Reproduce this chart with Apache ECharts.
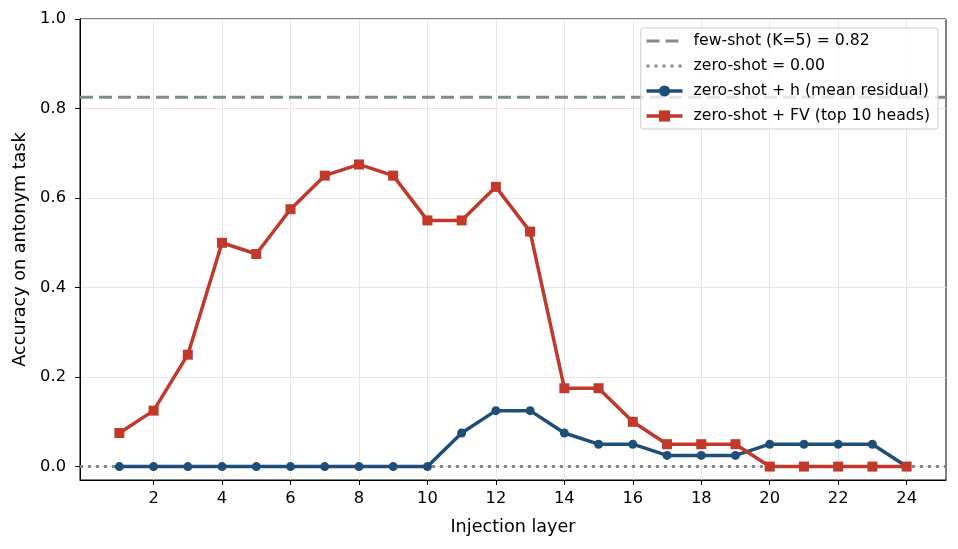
<!DOCTYPE html>
<html>
<head>
<meta charset="utf-8">
<script src="https://cdn.jsdelivr.net/npm/echarts@6/dist/echarts.min.js"></script>
<style>
    html, body { margin: 0; padding: 0; background: #fff; }
    #main { width: 958px; height: 549px; }
</style>
</head>
<body>
<div id="main"></div>
<script>
    // data
    const layers = [1, 2, 3, 4, 5, 6, 7, 8, 9, 10, 11, 12, 13, 14, 15, 16, 17, 18, 19, 20, 21, 22, 23, 24];
    const meanResidual = [0, 0, 0, 0, 0, 0, 0, 0, 0, 0, 0.075, 0.125, 0.125, 0.075, 0.05, 0.05, 0.025, 0.025, 0.025, 0.05, 0.05, 0.05, 0.05, 0];
    const functionVector = [0.075, 0.125, 0.25, 0.5, 0.475, 0.575, 0.65, 0.675, 0.65, 0.55, 0.55, 0.625, 0.525, 0.175, 0.175, 0.1, 0.05, 0.05, 0.05, 0, 0, 0, 0, 0];
    const fewShot = 0.825;
    const zeroShot = 0;
    const xTicks = [2, 4, 6, 8, 10, 12, 14, 16, 18, 20, 22, 24];
    const yTicks = [0, 0.2, 0.4, 0.6, 0.8, 1.0];

    const xMin = -0.15, xMax = 25.15;
    const font = 'DejaVu Sans';

    const myChart = echarts.init(document.getElementById('main'), null, {renderer: 'canvas'});

    const option = {
        animation: false,
        textStyle: {fontFamily: font},
        grid: {
            left: 80, right: 12, top: 19, bottom: 69,
            show: true, borderColor: '#000', borderWidth: 1, backgroundColor: 'transparent'
        },
        legend: {
            orient: 'vertical',
            right: 20,
            top: 28,
            itemWidth: 36,
            itemHeight: 14,
            itemGap: 9,
            padding: [5, 8, 5, 4],
            backgroundColor: 'rgba(255,255,255,0.8)',
            borderColor: '#cccccc',
            borderWidth: 1,
            borderRadius: 3,
            textStyle: {fontFamily: font, fontSize: 15.7, color: '#000', padding: [0, 0, 0, 6]},
            data: [
                {name: 'few-shot (K=5) = 0.82', itemStyle: {opacity: 0}, lineStyle: {width: 3}},
                {name: 'zero-shot = 0.00', itemStyle: {opacity: 0}, lineStyle: {width: 3}},
                {name: 'zero-shot + h (mean residual)', lineStyle: {width: 3.5}},
                {name: 'zero-shot + FV (top 10 heads)', lineStyle: {width: 3.5}}
            ]
        },
        xAxis: {
            type: 'value',
            min: xMin,
            max: xMax,
            name: 'Injection layer',
            nameLocation: 'middle',
            nameGap: 38,
            nameTextStyle: {fontFamily: font, fontSize: 17.6, color: '#000'},
            axisLine: {onZero: false, lineStyle: {color: '#000'}},
            axisTick: {show: true, length: 5, customValues: xTicks, lineStyle: {color: '#000'}},
            axisLabel: {customValues: xTicks, fontSize: 16.3, color: '#000', margin: 11},
            splitLine: {show: true, lineStyle: {color: '#e6e6e6', width: 1}}
        },
        yAxis: {
            type: 'value',
            min: -0.03,
            max: 1.0,
            name: 'Accuracy on antonym task',
            nameLocation: 'middle',
            nameGap: 48,
            nameTextStyle: {fontFamily: font, fontSize: 17.6, color: '#000'},
            axisLine: {show: true, onZero: false, lineStyle: {color: '#000'}},
            axisTick: {show: true, length: 5, customValues: yTicks, lineStyle: {color: '#000'}},
            axisLabel: {
                customValues: yTicks, fontSize: 16.3, color: '#000', margin: 14,
                formatter: function (v) { return v.toFixed(1); }
            },
            splitLine: {show: true, lineStyle: {color: '#e6e6e6', width: 1}}
        },
        series: [
            {
                name: 'few-shot (K=5) = 0.82',
                type: 'line',
                symbol: 'none',
                data: [[xMin, fewShot], [xMax, fewShot]],
                lineStyle: {color: '#7f8c8d', width: 3, type: [13, 6]},
                itemStyle: {color: '#7f8c8d'},
                z: 3
            },
            {
                name: 'zero-shot = 0.00',
                type: 'line',
                symbol: 'none',
                data: [[xMin, zeroShot], [xMax, zeroShot]],
                lineStyle: {color: '#7f8c8d', width: 3, type: [3, 5]},
                itemStyle: {color: '#7f8c8d'},
                z: 3
            },
            {
                name: 'zero-shot + h (mean residual)',
                type: 'line',
                symbol: 'circle',
                symbolSize: 9,
                data: layers.map((l, i) => [l, meanResidual[i]]),
                lineStyle: {color: '#1f4e79', width: 3.5},
                itemStyle: {color: '#1f4e79'},
                z: 4
            },
            {
                name: 'zero-shot + FV (top 10 heads)',
                type: 'line',
                symbol: 'rect',
                symbolSize: 10,
                data: layers.map((l, i) => [l, functionVector[i]]),
                lineStyle: {color: '#c0392b', width: 3.5},
                itemStyle: {color: '#c0392b'},
                z: 5
            }
        ]
    };
    myChart.setOption(option);
</script>
</body>
</html>
